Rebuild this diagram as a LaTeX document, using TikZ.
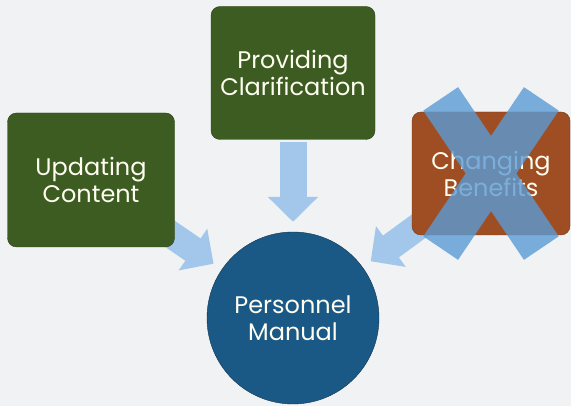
\documentclass[tikz,border=0pt]{standalone}
\usepackage{fontspec}
\setmainfont{Poppins}
\usetikzlibrary{arrows.meta}

\pgfdeclarelayer{bg}
\pgfsetlayers{bg,main}

\definecolor{slide}{HTML}{F0F2F4}
\definecolor{boxgreen}{HTML}{3D5C22}
\definecolor{boxrust}{HTML}{9E4E22}
\definecolor{manualblue}{HTML}{1A5986}
\definecolor{arrowblue}{HTML}{A3C7EA}
\definecolor{crossblue}{HTML}{5B9BD5}

\begin{document}
\begin{tikzpicture}
        [x=1pt,y=1pt,
         every node/.style={text=white!94!yellow,align=center,font=\fontsize{24}{27}\selectfont},
         topic/.style={draw=boxgreen!70!black,fill=boxgreen,rounded corners=9pt,inner sep=0},
         feed/.style={draw=arrowblue,line width=27pt,-{Triangle[width=49pt,length=25pt]}}]

        \useasboundingbox (0,0) rectangle (571,406);

        \node[topic,minimum width=167pt,minimum height=134pt] (upd) at (91,226) {Updating\\Content};
        \node[topic,minimum width=164pt,minimum height=133pt] (prov) at (293,333) {Providing\\Clarification};
        \node[topic,fill=boxrust,draw=boxrust!70!black,minimum width=158pt,minimum height=123pt] (chg) at (491,232.5) {Changing\\Benefits};
        \node[circle,draw=manualblue!60!black,fill=manualblue,minimum size=172pt,inner sep=0] (pm) at (293,88) {Personnel\\Manual};

        \begin{pgfonlayer}{bg}
          \fill[slide] (0,0) rectangle (571,406);
          \draw[feed,shorten <=2pt,shorten >=10pt] (prov) -- (pm);
          \draw[feed,shorten <=-20pt,shorten >=10pt] (upd) -- (pm);
          \draw[feed,shorten <=-20pt,shorten >=10pt] (chg) -- (pm);
        \end{pgfonlayer}

        \draw[crossblue,opacity=0.8,line width=42pt] (chg) ++(124:90pt) -- ++(-56:180pt) (chg) ++(56:90pt) -- ++(236:180pt);

      \end{tikzpicture}
\end{document}
